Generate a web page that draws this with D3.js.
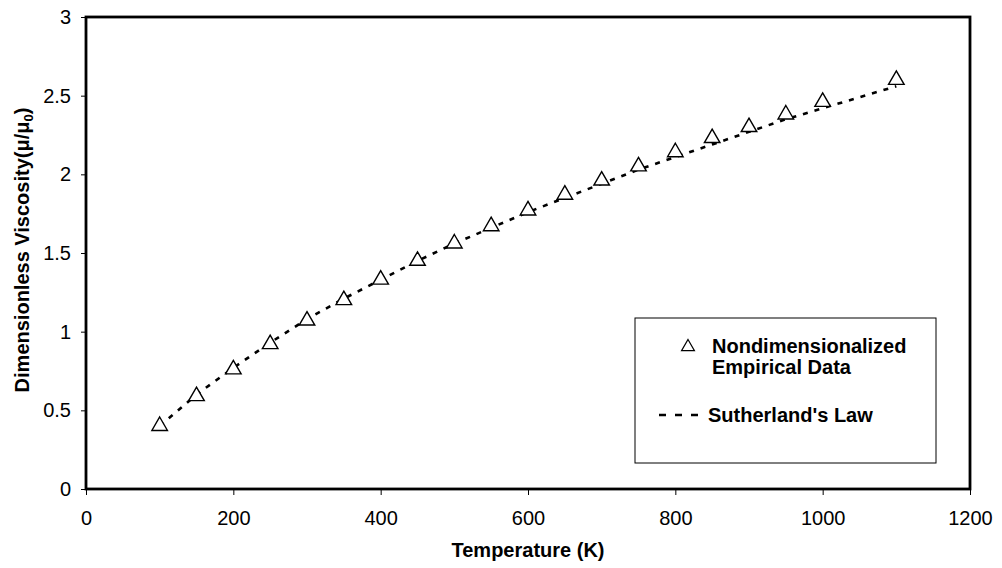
<!DOCTYPE html>
<html>
<head>
<meta charset="utf-8">
<script src="https://cdn.jsdelivr.net/npm/d3@7"></script>
<style>
  html, body { margin: 0; padding: 0; background: #fff; }
  svg { display: block; font-family: "Liberation Sans", Arial, sans-serif; }
</style>
</head>
<body>
<svg id="chart" width="1002" height="568"></svg>
<script>
// Temperatures (K)
const temperatures = [100, 150, 200, 250, 300, 350, 400, 450, 500, 550, 600, 650, 700, 750, 800, 850, 900, 950, 1000, 1100];
// Nondimensionalized empirical data (triangles)
const empiricalData = [0.41, 0.60, 0.77, 0.93, 1.08, 1.21, 1.34, 1.46, 1.57, 1.68, 1.78, 1.88, 1.97, 2.06, 2.15, 2.24, 2.31, 2.39, 2.47, 2.61];
// Sutherland's law curve (dashed)
const sutherlandLaw = [0.40, 0.60, 0.77, 0.93, 1.08, 1.21, 1.33, 1.45, 1.56, 1.66, 1.76, 1.85, 1.94, 2.03, 2.11, 2.19, 2.27, 2.35, 2.42, 2.56];
const xTicks = [0, 200, 400, 600, 800, 1000, 1200];
const yTicks = [0, 0.5, 1, 1.5, 2, 2.5, 3];
const legendLabels = [["Nondimensionalized", "Empirical Data"], ["Sutherland's Law"]];

const svg = d3.select("#chart");
const L = 86, R = 970, T = 17, B = 489;
const FS = 20;

const x = d3.scaleLinear().domain([0, 1200]).range([L, R]);
const y = d3.scaleLinear().domain([0, 3]).range([B, T]);

// Axes
const xAxis = svg.append("g").attr("transform", `translate(0,${B})`)
  .call(d3.axisBottom(x).tickValues(xTicks).tickSize(6).tickPadding(16).tickFormat(d3.format("d")));
const yAxis = svg.append("g").attr("transform", `translate(${L},0)`)
  .call(d3.axisLeft(y).tickValues(yTicks).tickSize(5).tickPadding(10).tickFormat(d => String(d)));
[xAxis, yAxis].forEach(g => {
  g.select(".domain").remove();
  g.selectAll("line").attr("stroke", "#000").attr("stroke-width", 1);
  g.selectAll("text").attr("font-size", FS).attr("fill", "#000")
    .attr("font-family", '"Liberation Sans", Arial, sans-serif');
});

// Plot frame
svg.append("rect").attr("x", L).attr("y", T).attr("width", R - L).attr("height", B - T)
  .attr("fill", "none").attr("stroke", "#000").attr("stroke-width", 2.8);

// Sutherland's law dashed line
const line = d3.line().x((d, i) => x(temperatures[i])).y(d => y(d));
svg.append("path").datum(sutherlandLaw).attr("d", line)
  .attr("fill", "none").attr("stroke", "#000").attr("stroke-width", 2.6)
  .attr("stroke-dasharray", "5,7");

// Triangles
const tri = d3.symbol().type(d3.symbolTriangle).size(105);
svg.append("g").selectAll("path").data(empiricalData).join("path")
  .attr("d", tri)
  .attr("transform", (d, i) => `translate(${x(temperatures[i])},${y(d) + 1.5})`)
  .attr("fill", "#fff").attr("stroke", "#000").attr("stroke-width", 1.4);

// Axis titles
svg.append("text").attr("x", (L + R) / 2).attr("y", 557).attr("text-anchor", "middle")
  .attr("font-size", FS).attr("font-weight", "bold").text("Temperature (K)");
const yt = svg.append("text").attr("transform", "translate(29,250) rotate(-90)")
  .attr("text-anchor", "middle").attr("font-size", FS).attr("font-weight", "bold");
yt.append("tspan").text("Dimensionless Viscosity(");
yt.append("tspan").text("μ/μ");
yt.append("tspan").attr("font-size", 13).attr("dy", 4).text("0");
yt.append("tspan").attr("dy", -4).text(")");

// Legend
const lg = svg.append("g");
lg.append("rect").attr("x", 635).attr("y", 318).attr("width", 301).attr("height", 145)
  .attr("fill", "#fff").attr("stroke", "#000").attr("stroke-width", 1);
lg.append("path").attr("d", d3.symbol().type(d3.symbolTriangle).size(72))
  .attr("transform", "translate(688,347)")
  .attr("fill", "#fff").attr("stroke", "#000").attr("stroke-width", 1.2);
const t1 = lg.append("text").attr("x", 712).attr("y", 353).attr("font-size", FS).attr("font-weight", "bold");
t1.append("tspan").attr("x", 712).text(legendLabels[0][0]);
t1.append("tspan").attr("x", 712).attr("dy", 21).text(legendLabels[0][1]);
lg.append("line").attr("x1", 659).attr("x2", 707).attr("y1", 415).attr("y2", 415)
  .attr("stroke", "#000").attr("stroke-width", 2.6).attr("stroke-dasharray", "7,9");
lg.append("text").attr("x", 708).attr("y", 422).attr("font-size", FS).attr("font-weight", "bold")
  .text(legendLabels[1][0]);
</script>
</body>
</html>
